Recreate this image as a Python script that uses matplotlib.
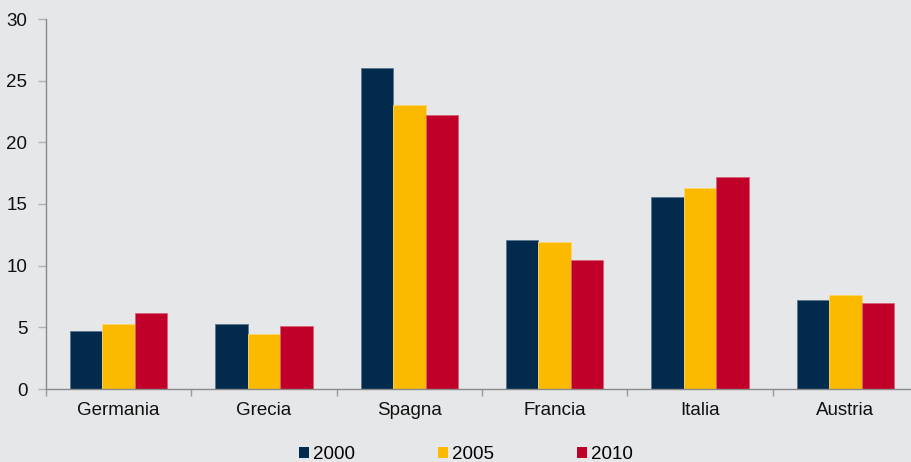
import numpy as np
import matplotlib.pyplot as plt
from matplotlib.patches import Patch

paesi = ['Germania', 'Grecia', 'Spagna', 'Francia', 'Italia', 'Austria']
anni = ['2000', '2005', '2010']
v2000 = [4.7, 5.3, 26.0, 12.1, 15.6, 7.2]
v2005 = [5.3, 4.5, 23.0, 11.9, 16.3, 7.6]
v2010 = [6.2, 5.1, 22.2, 10.5, 17.2, 7.0]

colori = ['#012A4C', '#FBBA00', '#C1002A']
bordi = ['#5A7690', '#FDD66A', '#D9617A']
sfondo = '#E6E7E9'

plt.rcParams['font.family'] = ['Liberation Sans', 'DejaVu Sans']

W, H = 911, 462
fig = plt.figure(figsize=(W / 100, H / 100), dpi=100, facecolor=sfondo)
ax = fig.add_axes([46 / W, (H - 389) / H, (918 - 46) / W, 370 / H])
ax.set_facecolor(sfondo)

x = np.arange(len(paesi))
w = 0.224
for i, (vals, c, b) in enumerate(zip([v2000, v2005, v2010], colori, bordi)):
    ax.bar(x + (i - 1) * w, vals, width=w, color=c, edgecolor=b, linewidth=0.6, label=anni[i])

ax.set_xlim(-0.5, len(paesi) - 0.5)
ax.set_ylim(0, 30)
ax.set_yticks(range(0, 31, 5))

ax.set_xticks(x)
ax.set_xticklabels(paesi)
ax.set_xticks(np.arange(-0.5, len(paesi), 1), minor=True)
ax.tick_params(axis='x', which='major', length=0, pad=9.5, labelsize=13.5, colors='#111111')
ax.tick_params(axis='x', which='minor', length=5, width=1, color='#9A9A9A')
ax.tick_params(axis='y', length=6, width=1, color='#B0B0B0', pad=7.5, labelsize=13.5, labelcolor='#111111')

for s in ['top', 'right']:
    ax.spines[s].set_visible(False)
for s in ['left', 'bottom']:
    ax.spines[s].set_color('#8A8A8A')
    ax.spines[s].set_linewidth(1)

handles = [Patch(facecolor=c, edgecolor='none') for c in colori]
fig.legend(handles, anni, loc='center', bbox_to_anchor=(466 / W, 7.5 / H), ncol=3,
           frameon=False, fontsize=13.5, handlelength=0.55, handleheight=0.55,
           handletextpad=0.22, columnspacing=4.4, borderpad=0)

fig.savefig('out.png', dpi=100, facecolor=sfondo)
